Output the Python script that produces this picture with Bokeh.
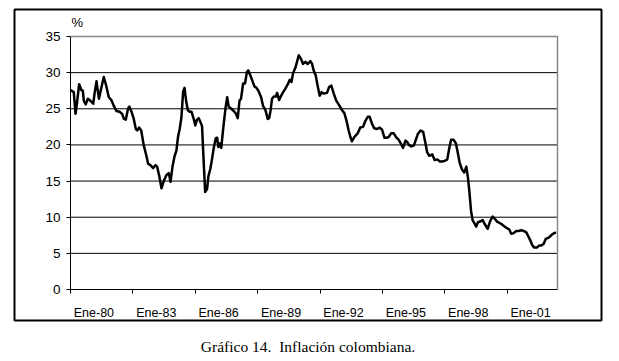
from bokeh.plotting import figure
from bokeh.models import Range1d, FixedTicker, Div
from bokeh.layouts import column
from bokeh.core.properties import value
from bokeh.embed import file_html
from bokeh.resources import INLINE

# Month index counted from January 1980 (0 = Ene-80)
months = [0, 1.9, 2.9, 3.8, 5.0, 6.2, 7.1, 7.7, 8.8, 10, 11.5, 13.1, 14.0, 15.0, 16.4, 17.7,
          19.2, 20.6, 22.1, 23.6, 25.0, 26.5, 28.3, 29.8, 30.8, 31.9, 33.3, 34.0, 35.2, 36.5,
          37.7, 38.5, 39.6, 40.8, 42.3, 43.8, 44.8, 46.1, 47.7, 49, 50, 51.2, 52.5, 53.8, 55.3,
          56.7, 57.7, 58.8, 60, 61.1, 62.1, 63, 64, 65, 65.8, 66.7, 67.7, 68.8, 69.8, 71.1, 72,
          73, 74, 74.9, 75.9, 76.9, 77.7, 78.8, 79.6, 80.7, 81.7, 82.6, 83.8, 84.6, 85.3, 86.1,
          87, 88, 89.4, 90.4, 91.3, 92.8, 94.2, 95.5, 96.5, 97.5, 98.4, 99.6, 100.7, 101.8,
          102.6, 103.8, 104.9, 106.1, 107.3, 108.4, 110, 111.1, 112.5, 113.8, 114.6, 115.4,
          116.3, 117.3, 118.5, 119.2, 120.4, 121.5, 122.7, 124, 125.4, 126.5, 127.5, 128.4,
          129.8, 131.7, 133.0, 134.2, 135.5, 136.9, 138.4, 139.4, 140.3, 141.5, 142.6, 143.8,
          144.9, 146.1, 148, 149.2, 150.5, 151.9, 153.4, 155, 156.7, 158, 159.2, 160.5, 161.5,
          162.4, 163.8, 165.7, 167.2, 168.8, 170.1, 171.5, 172.6, 174, 175.3, 176.9, 178.4,
          179.8, 181.1, 182.3, 183.6, 185, 186.5, 188.1, 189.4, 190.8, 191.9, 193.3, 194.3,
          195.2, 196.6, 198.1, 199.1, 200.4, 202, 203.5, 204.5, 205.8, 207, 208.7, 210.1,
          211.6, 213.2, 214.5, 215.9, 217.4, 218.6, 219.6, 221.1, 222.4, 223.4, 224.5, 225.9,
          227.2, 228.4, 229.3, 230.1, 231.1, 232, 233.2, 234.1, 235.1, 236.4, 237.8, 238.9,
          240.7, 242.2, 243.6, 244.8, 246.1, 247.6, 249, 250.5, 251.8, 253.2, 254.3, 255.7,
          257.2, 258.6, 260.1, 261.5, 263, 264.3, 265.3, 266.5, 267.6, 269.1, 270.5, 271.7,
          273, 274.2, 275.3, 276.5, 277.8, 279.1, 280.2]
inflation = [27.6, 27.3, 24.3, 25.9, 28.4, 27.6, 27.5, 26.1, 25.6, 26.4, 26.1, 25.7, 27.3, 28.8,
             26.4, 27.8, 29.4, 28.2, 26.6, 26.2, 25.4, 24.7, 24.6, 24.3, 23.6, 23.5, 25.1, 25.3,
             24.6, 23.6, 22.2, 22.0, 22.4, 22.0, 19.9, 18.5, 17.4, 17.2, 16.8, 17.2, 17.0, 15.7,
             14.0, 15.0, 15.8, 16.1, 14.9, 16.9, 18.4, 19.2, 21.2, 22.2, 23.8, 27.4, 27.9, 26.1,
             24.8, 24.6, 24.6, 23.6, 22.7, 23.5, 23.7, 23.2, 22.6, 17.4, 13.5, 13.9, 15.7, 16.7,
             18.1, 19.5, 20.9, 21.0, 19.7, 20.2, 19.6, 22.0, 25.0, 26.6, 25.3, 25.0, 24.7, 24.3,
             23.7, 26.1, 26.4, 28.5, 28.5, 30.1, 30.3, 29.6, 28.9, 28.1, 27.9, 27.5, 26.6, 25.4,
             24.8, 23.6, 23.7, 24.7, 26.4, 26.7, 26.7, 27.2, 26.2, 26.8, 27.3, 27.8, 28.4, 29.0,
             28.7, 29.9, 30.7, 32.4, 31.9, 31.2, 31.5, 31.2, 31.6, 31.2, 30.3, 29.6, 28.2, 26.8,
             27.3, 27.1, 27.2, 28.0, 28.2, 27.1, 26.1, 25.5, 24.8, 24.4, 23.4, 22.0, 21.1, 20.5,
             21.1, 21.6, 22.4, 22.5, 23.3, 23.9, 23.9, 22.9, 22.3, 22.2, 22.4, 22.1, 21.0, 21.0,
             21.1, 21.6, 21.6, 21.0, 20.7, 20.1, 19.6, 20.6, 20.4, 20.0, 19.8, 19.9, 20.6, 21.5,
             22.0, 21.8, 20.6, 19.0, 18.5, 18.7, 17.9, 18.0, 17.7, 17.7, 17.8, 18.0, 19.6, 20.7,
             20.7, 20.2, 19.0, 17.6, 16.6, 16.2, 17.0, 15.5, 13.7, 10.9, 9.6, 9.1, 8.7, 9.3, 9.4,
             9.6, 9.1, 8.4, 9.5, 10.1, 9.8, 9.4, 9.2, 9.0, 8.7, 8.5, 8.3, 7.7, 7.8, 8.1, 8.1, 8.2,
             8.1, 7.9, 7.3, 6.8, 6.1, 5.8, 5.8, 6.1, 6.1, 6.3, 7.0, 7.1, 7.3, 7.6, 7.8, 7.9]

x_tick_months = [0, 36, 72, 108, 144, 180, 216, 252]
x_tick_labels = ["Ene-80", "Ene-83", "Ene-86", "Ene-89", "Ene-92", "Ene-95", "Ene-98", "Ene-01"]
y_ticks = [0, 5, 10, 15, 20, 25, 30, 35]
unit_label = "%"
caption_text = "Gráfico 14.&nbsp; Inflación colombiana."

X_MIN, X_MAX = 0, 281          # month range of the plot area
Y_MIN, Y_MAX = 0, 35

# ---- layout geometry (canvas pixels) ----
W, H = 612, 322
FRAME_L, FRAME_R, FRAME_T, FRAME_B = 14, 601, 9, 320     # outer chart box
PLOT_L, PLOT_R, PLOT_T, PLOT_B = 70, 557, 36, 289        # plot area inside box
LABEL_SHIFT = 13.5                                       # label offset from tick (months)

kx = (PLOT_R - PLOT_L) / (X_MAX - X_MIN)
ky = (PLOT_B - PLOT_T) / (Y_MAX - Y_MIN)
x_range = Range1d(X_MIN - (PLOT_L - FRAME_L) / kx, X_MAX + (FRAME_R - PLOT_R) / kx)
y_range = Range1d(Y_MIN - (FRAME_B - PLOT_B) / ky, Y_MAX + (PLOT_T - FRAME_T) / ky)

label_pos = [m + LABEL_SHIFT for m in x_tick_months]
SANS = "Liberation Sans"

p = figure(width=W, height=H, x_range=x_range, y_range=y_range,
           output_backend="svg", toolbar_location=None,
           min_border_left=FRAME_L, min_border_right=W - FRAME_R,
           min_border_top=FRAME_T, min_border_bottom=H - FRAME_B)
p.background_fill_color = "white"
p.border_fill_color = "white"
p.outline_line_color = "black"
p.outline_line_width = 2
p.xgrid.visible = False
p.ygrid.visible = False

# horizontal grid lines
grid_vals = y_ticks[1:-1]
p.segment(x0=[X_MIN] * len(grid_vals), x1=[X_MAX] * len(grid_vals),
          y0=grid_vals, y1=grid_vals, line_color="black", line_width=1)
# gray plot-area border (top and right)
p.line([X_MIN, X_MAX, X_MAX], [Y_MAX, Y_MAX, Y_MIN], line_color="#888888", line_width=1.5)

p.line(months, inflation, line_color="black", line_width=2.5, line_join="round")

# unit label
p.text(x=[X_MIN], y=[Y_MAX], text=[unit_label], text_font=value(SANS),
       text_font_size=value("13px"), text_color="black", text_align="left",
       text_baseline="bottom", x_offset=1, y_offset=-7)

xa = p.xaxis[0]
xa.fixed_location = Y_MIN
xa.bounds = (X_MIN, X_MAX)
xa.ticker = FixedTicker(ticks=label_pos, minor_ticks=x_tick_months)
xa.major_label_overrides = {pos: lab for pos, lab in zip(label_pos, x_tick_labels)}
xa.major_tick_out = 0
xa.major_tick_in = 0
xa.minor_tick_out = 4
xa.minor_tick_in = 0
xa.minor_tick_line_color = "black"
xa.axis_line_color = "black"
xa.major_label_standoff = 12
xa.major_label_text_font = SANS
xa.major_label_text_font_size = "12.5px"
xa.major_label_text_color = "black"

ya = p.yaxis[0]
ya.fixed_location = X_MIN
ya.bounds = (Y_MIN, Y_MAX)
ya.ticker = FixedTicker(ticks=y_ticks)
ya.minor_tick_line_color = None
ya.major_tick_out = 4
ya.major_tick_in = 0
ya.major_tick_line_color = "black"
ya.axis_line_color = "black"
ya.major_label_standoff = 6
ya.major_label_text_font = SANS
ya.major_label_text_font_size = "13.5px"
ya.major_label_text_color = "black"

caption = Div(text=caption_text, width=600, height=19,
              styles={"text-align": "center", "font-family": "Liberation Serif",
                      "font-size": "15.5px", "color": "black"})
caption.margin = (14, 0, 0, 8)

layout = column(p, caption, spacing=0)
open("out.html", "w").write(file_html(layout, INLINE))
